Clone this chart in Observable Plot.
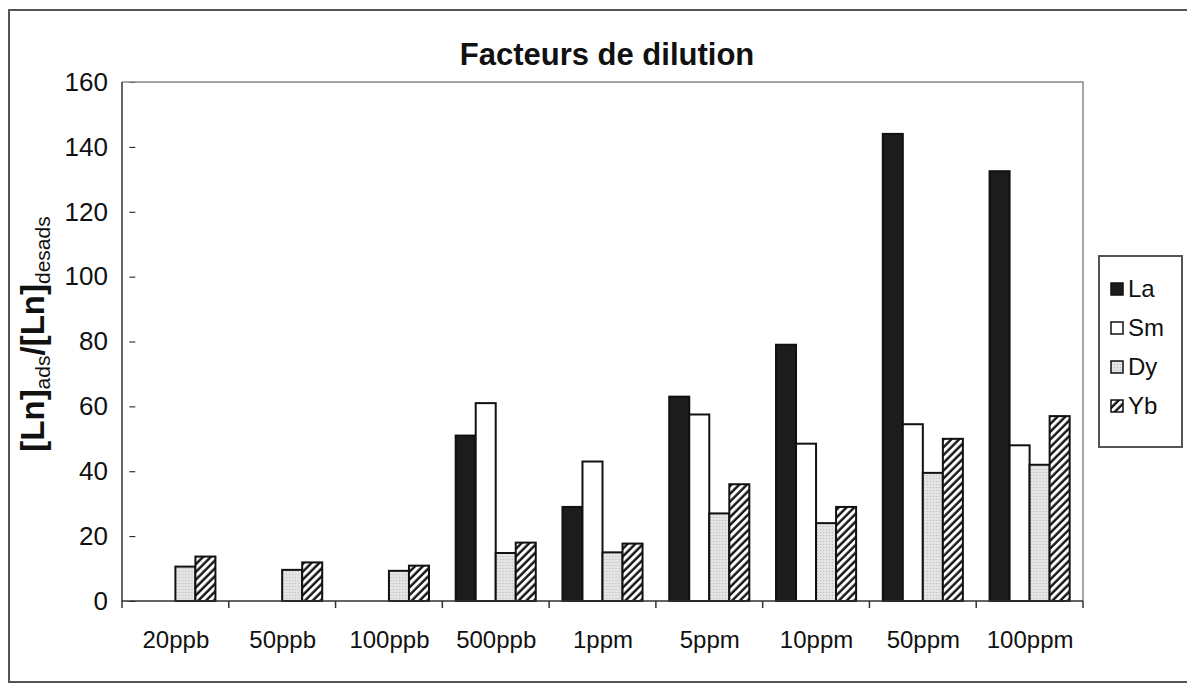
<!DOCTYPE html>
<html>
<head>
<meta charset="utf-8">
<script src="https://cdn.jsdelivr.net/npm/d3@7"></script>
<script src="https://cdn.jsdelivr.net/npm/@observablehq/plot@0.6"></script>
<style>
  body { margin: 0; background: #fff; }
  #page { position: relative; width: 1187px; height: 690px; overflow: hidden; background: #fff;
          font-family: Arial, "Liberation Sans", sans-serif; color: #111; }
  #frame { position: absolute; left: 8px; top: 9px; width: 1195px; height: 674px; border: 2px solid #555; box-sizing: border-box; }
  #title { position: absolute; left: 0; width: 1214px; top: 38px; text-align: center; font-weight: bold; font-size: 31px; line-height: 34px; }
  #ylabel { position: absolute; left: 38px; top: 334px; transform: translate(-50%, -50%) rotate(-90deg);
            white-space: nowrap; font-weight: bold; font-size: 33px; line-height: 36px; }
  #ylabel sub { font-size: 21px; font-weight: normal; vertical-align: -6px; }
  #chart { position: absolute; left: 0; top: 60px; }
  #legend { position: absolute; left: 1098px; top: 255px; width: 85px; height: 193px; border: 2px solid #555; box-sizing: border-box; background: #fff; }
  .item { position: absolute; left: 10px; display: flex; align-items: center; font-size: 24px; height: 26px; }
  .item svg { margin-right: 4px; }
</style>
</head>
<body>
<div id="page">
  <div id="frame"></div>
  <div id="title">Facteurs de dilution</div>
  <div id="ylabel">[Ln]<sub>ads</sub>/[Ln]<sub>desads</sub></div>
  <div id="chart"></div>
  <div id="legend"></div>
</div>
<script>
// ---- data ----
const groups = ["20ppb", "50ppb", "100ppb", "500ppb", "1ppm", "5ppm", "10ppm", "50ppm", "100ppm"];
const series = ["La", "Sm", "Dy", "Yb"];
const La = [null, null, null, 51, 29, 63, 79, 144, 132.5];
const Sm = [null, null, null, 61, 43, 57.5, 48.5, 54.5, 48];
const Dy = [10.6, 9.6, 9.3, 14.8, 15, 27, 24, 39.5, 42];
const Yb = [13.7, 11.9, 10.9, 18, 17.7, 36, 29, 50, 57];
const yTicks = [0, 20, 40, 60, 80, 100, 120, 140, 160];
const seriesFills = ["#1c1c1c", "#ffffff", "url(#dy-dots)", "url(#yb-hatch)"];

const valuesBySeries = {La, Sm, Dy, Yb};
const table = [];
groups.forEach((g, i) => series.forEach(s => {
  const v = valuesBySeries[s][i];
  if (v != null) table.push({group: g, series: s, value: v});
}));

// ---- patterns (shared defs) ----
const defsSvg = d3.select("body").append("svg").attr("width", 0).attr("height", 0).style("position", "absolute");
const defs = defsSvg.append("defs");
const dots = defs.append("pattern").attr("id", "dy-dots").attr("patternUnits", "userSpaceOnUse").attr("width", 3).attr("height", 3);
dots.append("rect").attr("width", 3).attr("height", 3).attr("fill", "#e4e4e4");
dots.append("circle").attr("cx", 1.5).attr("cy", 1.5).attr("r", 0.6).attr("fill", "#b5b5b5");
const hatch = defs.append("pattern").attr("id", "yb-hatch").attr("patternUnits", "userSpaceOnUse")
  .attr("width", 5.5).attr("height", 5.5).attr("patternTransform", "rotate(45)");
hatch.append("rect").attr("width", 5.5).attr("height", 5.5).attr("fill", "#fff");
hatch.append("line").attr("x1", 1.5).attr("y1", 0).attr("x2", 1.5).attr("y2", 5.5).attr("stroke", "#111").attr("stroke-width", 2.4);

// ---- chart ----
const chart = Plot.plot({
  width: 1090,
  height: 601,
  marginTop: 22,
  marginLeft: 122,
  marginRight: 7,
  marginBottom: 60,
  style: {fontFamily: "Arial, 'Liberation Sans', sans-serif", fontSize: "26px", color: "#111", background: "transparent", overflow: "visible"},
  fx: {domain: groups, paddingInner: 0.25, paddingOuter: 0.125, round: false, label: null, tickSize: 0, tickPadding: 29},
  x: {domain: series, padding: 0, axis: null, round: false},
  y: {domain: [0, 160], ticks: yTicks, tickSize: 6, tickPadding: 22, label: null},
  color: {domain: series, range: seriesFills},
  marks: [
    Plot.barY(table, {fx: "group", x: "series", y: "value", fill: "series", stroke: "#111", strokeWidth: 2})
  ]
});
document.getElementById("chart").appendChild(chart);

// axis frame + category boundary ticks, from the library's scales
const fx = chart.scale("fx");
const ys = chart.scale("y");
const svg = d3.select(chart);
const x0 = fx.range[0], x1 = fx.range[1];
const yb = ys.apply(0), yt = ys.apply(160);
const gFrame = svg.append("g");
gFrame.append("path").attr("d", `M${x0},${yt}H${x1}V${yb}`).attr("fill", "none").attr("stroke", "#888").attr("stroke-width", 1.5);
gFrame.append("path").attr("d", `M${x0},${yt}V${yb}H${x1}`).attr("fill", "none").attr("stroke", "#333").attr("stroke-width", 1.5);
const step = (x1 - x0) / groups.length;
d3.range(groups.length + 1).forEach(i => {
  gFrame.append("line").attr("x1", x0 + i * step).attr("x2", x0 + i * step).attr("y1", yb).attr("y2", yb + 7)
    .attr("stroke", "#333").attr("stroke-width", 1.5);
});
svg.selectAll('g[aria-label^="fx-axis"] text').style("font-size", "24px");

// ---- legend ----
const legend = d3.select("#legend");
series.forEach((s, i) => {
  const it = legend.append("div").attr("class", "item").style("top", `${19 + i * 39}px`);
  const sw = it.append("svg").attr("width", 14).attr("height", 14);
  sw.append("rect").attr("x", 1).attr("y", 1).attr("width", 12).attr("height", 12)
    .attr("fill", seriesFills[i]).attr("stroke", "#111").attr("stroke-width", 1.5);
  it.append("span").text(s);
});
</script>
</body>
</html>
